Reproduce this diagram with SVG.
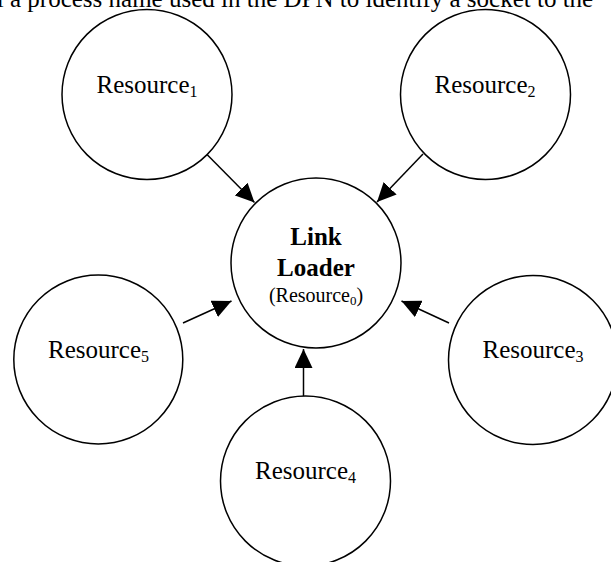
<svg xmlns="http://www.w3.org/2000/svg" width="611" height="562" viewBox="0 0 611 562">
<defs>
<style>
.node circle{fill:#fff;stroke:#000;stroke-width:1.5}
text{font-family:"Liberation Serif","Times New Roman",serif;fill:#000}
.lbl{font-size:25px;text-anchor:middle}
.sub{font-size:16px}
.edge{stroke:#000;stroke-width:1.5;fill:none;marker-end:url(#ah)}
</style>
<marker id="ah" markerUnits="userSpaceOnUse" markerWidth="19" markerHeight="18" refX="19" refY="9" orient="auto">
<path d="M0,0 L19,9 L0,18 z" fill="#000"/>
</marker>
</defs>
<rect width="611" height="562" fill="#fff"/>
<text x="-3.2" y="6.5" font-size="25">l a process name used in the DPN to identify a socket to the</text>
<g id="connectors">
<line class="edge" x1="206.5" y1="154" x2="254.5" y2="202.5"/>
<line class="edge" x1="423" y1="154" x2="377" y2="202"/>
<line class="edge" x1="183" y1="323" x2="231.5" y2="301"/>
<line class="edge" x1="449" y1="323" x2="401.5" y2="301"/>
<line class="edge" x1="303.5" y1="396" x2="303.5" y2="349"/>
</g>
<g id="link-loader" class="node">
<circle cx="316" cy="263" r="85"/>
<text x="316" y="245" font-size="25" font-weight="bold" text-anchor="middle">Link</text>
<text x="316" y="276" font-size="25" font-weight="bold" text-anchor="middle">Loader</text>
<text x="316" y="301.7" font-size="20" text-anchor="middle">(Resource<tspan font-size="13" dy="3">0</tspan><tspan dy="-3">)</tspan></text>
</g>
<g id="resource1" class="node">
<circle cx="147" cy="94.5" r="85"/>
<text class="lbl" x="147" y="92.7">Resource<tspan class="sub" dy="4">1</tspan></text>
</g>
<g id="resource2" class="node">
<circle cx="485.5" cy="94.5" r="85"/>
<text class="lbl" x="485" y="92.7">Resource<tspan class="sub" dy="4">2</tspan></text>
</g>
<g id="resource3" class="node">
<circle cx="533" cy="360" r="84.5"/>
<text class="lbl" x="533" y="358.3">Resource<tspan class="sub" dy="4">3</tspan></text>
</g>
<g id="resource4" class="node">
<circle cx="305.5" cy="481" r="85"/>
<text class="lbl" x="305.5" y="479">Resource<tspan class="sub" dy="4">4</tspan></text>
</g>
<g id="resource5" class="node">
<circle cx="98.3" cy="359.5" r="84.5"/>
<text class="lbl" x="98.5" y="358.3">Resource<tspan class="sub" dy="4">5</tspan></text>
</g>
</svg>
